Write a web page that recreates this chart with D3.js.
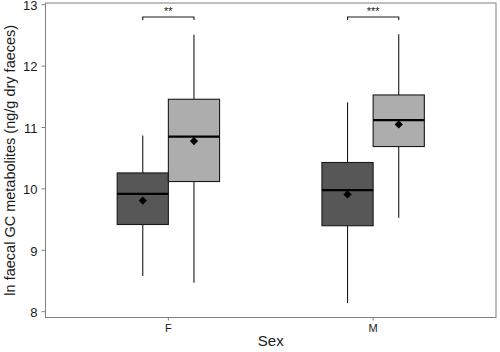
<!DOCTYPE html>
<html><head><meta charset="utf-8">
<script src="https://cdn.jsdelivr.net/npm/d3@7"></script>
<style>body{margin:0;background:#fff}svg{display:block}text{font-family:"Liberation Sans",Arial,sans-serif}</style>
</head><body>
<script>
const categories = ["F","M"];
const groups = ["low","high"];
const fills = ["#575757","#adadad"];
// [whiskerLow, q1, median, q3, whiskerHigh, mean] per category per group
const lowStats  = [[8.58,9.42,9.92,10.26,10.87,9.81],[8.14,9.40,9.98,10.43,11.41,9.91]];
const highStats = [[8.47,10.12,10.85,11.46,12.51,10.78],[9.53,10.69,11.12,11.53,12.52,11.05]];
const sigLabels = ["**","***"];
const sigY = 12.8;
const yTicks = [8,9,10,11,12,13];

const W=500,H=352;
const m={left:45.5,right:4,top:3,bottom:34.5};
const svg=d3.select("body").append("svg").attr("width",W).attr("height",H);
const pw=W-m.right-m.left;
const xc=d3.scalePoint().domain(categories).range([m.left+pw*0.6/2.2,m.left+pw*1.6/2.2]);
const y=d3.scaleLinear().domain([8,13]).range([311.7,4.7]);
const unit=xc.step();
const bw=unit*0.25;

svg.append("rect").attr("x",m.left).attr("y",m.top).attr("width",pw).attr("height",H-m.bottom-m.top)
  .attr("fill","none").attr("stroke","#808080").attr("stroke-width",1);

const allStats=[lowStats,highStats];
categories.forEach((c,ci)=>{
  groups.forEach((g,gi)=>{
    const s=allStats[gi][ci];
    const cx=xc(c)+(gi===0?-bw/2:bw/2);
    const gEl=svg.append("g");
    gEl.append("line").attr("x1",cx).attr("x2",cx).attr("y1",y(s[0])).attr("y2",y(s[1])).attr("stroke","#1a1a1a").attr("stroke-width",1.1);
    gEl.append("line").attr("x1",cx).attr("x2",cx).attr("y1",y(s[3])).attr("y2",y(s[4])).attr("stroke","#1a1a1a").attr("stroke-width",1.1);
    gEl.append("rect").attr("x",cx-bw/2).attr("width",bw).attr("y",y(s[3])).attr("height",y(s[1])-y(s[3]))
      .attr("fill",fills[gi]).attr("stroke","#1a1a1a").attr("stroke-width",1.1);
    gEl.append("line").attr("x1",cx-bw/2).attr("x2",cx+bw/2).attr("y1",y(s[2])).attr("y2",y(s[2])).attr("stroke","#000").attr("stroke-width",2.2);
    gEl.append("path").attr("d",d3.symbol(d3.symbolSquare,34)())
      .attr("transform",`translate(${cx},${y(s[5])}) rotate(45)`).attr("fill","#000");
  });
  const x1=xc(c)-bw/2, x2=xc(c)+bw/2, yy=y(sigY);
  svg.append("path").attr("d",`M${x1},${yy+3}V${yy}H${x2}V${yy+3}`).attr("fill","none").attr("stroke","#1a1a1a").attr("stroke-width",1.1);
  svg.append("text").attr("x",(x1+x2)/2).attr("y",yy-2).attr("text-anchor","middle").attr("font-size",11).attr("fill","#1a1a1a").text(sigLabels[ci]);
});

const ya=svg.append("g");
yTicks.forEach(t=>{
  ya.append("line").attr("x1",m.left-4).attr("x2",m.left).attr("y1",y(t)).attr("y2",y(t)).attr("stroke","#808080");
  ya.append("text").attr("x",m.left-8).attr("y",y(t)).attr("dy","0.4em").attr("text-anchor","end").attr("font-size",13).attr("fill","#1a1a1a").text(t);
});
categories.forEach(c=>{
  svg.append("line").attr("x1",xc(c)).attr("x2",xc(c)).attr("y1",H-m.bottom).attr("y2",H-m.bottom+3).attr("stroke","#808080");
  svg.append("text").attr("x",xc(c)).attr("y",H-m.bottom+14).attr("text-anchor","middle").attr("font-size",11).attr("fill","#1a1a1a").text(c);
});
svg.append("text").attr("x",(m.left+W-m.right)/2).attr("y",346).attr("text-anchor","middle").attr("font-size",15).attr("fill","#1a1a1a").text("Sex");
svg.append("text").attr("transform",`translate(15,${(m.top+H-m.bottom)/2}) rotate(-90)`).attr("text-anchor","middle").attr("font-size",14.5).attr("fill","#1a1a1a").text("ln faecal GC metabolites (ng/g dry faeces)");
</script>
</body></html>
